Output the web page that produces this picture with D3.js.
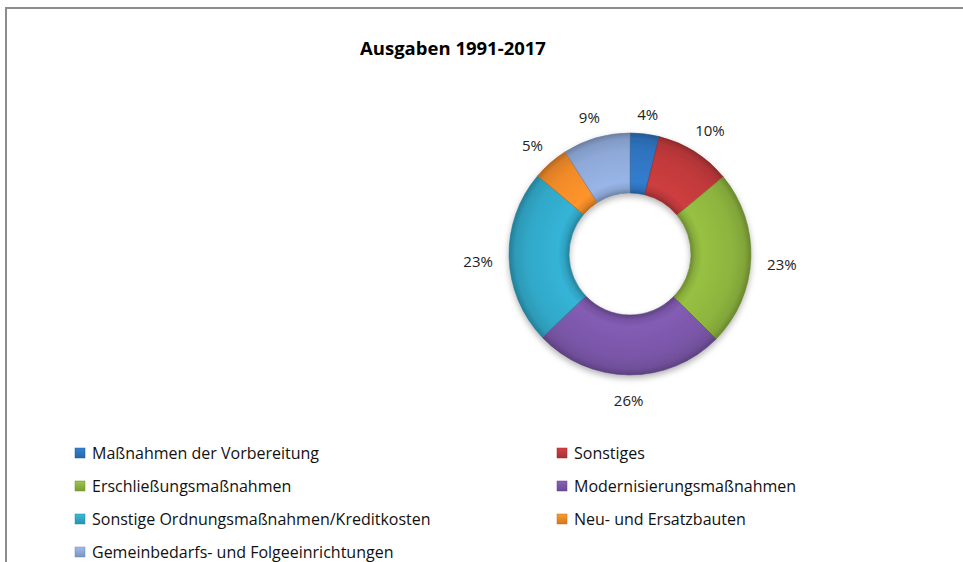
<!DOCTYPE html>
<html>
<head>
<meta charset="utf-8">
<script src="https://cdn.jsdelivr.net/npm/d3@7"></script>
<style>
  body { margin: 0; background: #fff; }
  svg { display: block; font-family: "Open Sans", "Noto Sans", sans-serif; }
</style>
</head>
<body>
<div class="c_chart"></div>
<script>
/* données */
const titre = "Ausgaben 1991-2017";
const categories = [
  "Maßnahmen der Vorbereitung",
  "Sonstiges",
  "Erschließungsmaßnahmen",
  "Modernisierungsmaßnahmen",
  "Sonstige Ordnungsmaßnahmen/Kreditkosten",
  "Neu- und Ersatzbauten",
  "Gemeinbedarfs- und Folgeeinrichtungen"
];
const valeurs = [3.9, 10.1, 23.4, 25.5, 23.3, 4.8, 9.0];
const couleurs = ["#2f74c0", "#c0393b", "#8db43e", "#7a56a8", "#31a8c8", "#f08a28", "#8ea9d8"];

/* dimensions */
const width = 963, height = 562;
const cx = 630, cy = 254, rOut = 121, rIn = 61;

const svg = d3.select(".c_chart").append("svg")
  .attr("width", width)
  .attr("height", height);

const defs = svg.append("defs");

// ombre
const ombre = defs.append("filter").attr("id", "ombre")
  .attr("x", "-20%").attr("y", "-20%").attr("width", "140%").attr("height", "140%");
ombre.append("feDropShadow")
  .attr("dx", 0).attr("dy", 3).attr("stdDeviation", 3)
  .attr("flood-color", "#000").attr("flood-opacity", 0.3);

// dégradés "biseau" (coordonnées locales du groupe centré)
couleurs.forEach(function(c, i){
  const base = d3.color(c);
  const g = defs.append("radialGradient")
    .attr("id", "grad" + i)
    .attr("gradientUnits", "userSpaceOnUse")
    .attr("cx", 0).attr("cy", 0).attr("r", rOut);
  [[rIn / rOut, base.darker(0.7)],
   [rIn / rOut + 0.04, base.darker(0.1)],
   [0.6, base.brighter(0.2)],
   [0.85, base],
   [0.95, base.darker(0.25)],
   [1, base.darker(0.8)]].forEach(function(s){
    g.append("stop").attr("offset", s[0]).attr("stop-color", s[1]);
  });
});

// bordure
svg.append("path")
  .attr("d", "M6,562 V8 H963")
  .attr("fill", "none")
  .attr("stroke", "#8c8c8c")
  .attr("stroke-width", 2);

// titre
svg.append("text")
  .attr("x", 453).attr("y", 55)
  .attr("text-anchor", "middle")
  .attr("font-size", 18.5)
  .attr("font-weight", "bold")
  .attr("fill", "#000")
  .text(titre);

/* anneau */
const pie = d3.pie().sort(null).value(d => d);
const arcs = pie(valeurs);
const arc = d3.arc().innerRadius(rIn).outerRadius(rOut);

svg.append("g")
  .attr("transform", `translate(${cx},${cy})`)
  .attr("filter", "url(#ombre)")
  .selectAll("path")
  .data(arcs)
  .enter()
  .append("path")
  .attr("d", arc)
  .attr("fill", (d, i) => "url(#grad" + i + ")")
  .attr("stroke", (d, i) => d3.color(couleurs[i]).darker(0.8))
  .attr("stroke-width", 0.6);

/* étiquettes */
const fmt = d3.format(".0f");
const lab = svg.append("g").attr("font-size", 15).attr("fill", "#222");
arcs.forEach(function(d){
  const a = (d.startAngle + d.endAngle) / 2;
  const t = lab.append("text")
    .attr("text-anchor", "middle")
    .attr("dominant-baseline", "central")
    .text(fmt(d.data) + "%");
  const w = t.node().getComputedTextLength();
  const R = rOut + 16 + (w / 2) * Math.abs(Math.sin(a)) + 6 * Math.abs(Math.cos(a));
  t.attr("x", cx + R * Math.sin(a))
   .attr("y", cy - R * Math.cos(a) + 3);
});

/* légende */
const col = d3.scalePoint().domain([0, 1]).range([75, 557]);
const row = d3.scalePoint().domain([0, 1, 2, 3]).range([453, 552]);

const leg = svg.append("g").attr("font-size", 16).attr("fill", "#111");
categories.forEach(function(c, i){
  const x = col(i % 2), y = row(Math.floor(i / 2));
  const base = d3.color(couleurs[i]);
  const gid = "lg" + i;
  const lg = defs.append("linearGradient").attr("id", gid)
    .attr("x1", 0).attr("y1", 0).attr("x2", 0).attr("y2", 1);
  lg.append("stop").attr("offset", 0).attr("stop-color", base.brighter(0.3));
  lg.append("stop").attr("offset", 1).attr("stop-color", base.darker(0.4));
  leg.append("rect")
    .attr("x", x).attr("y", y - 5)
    .attr("width", 10).attr("height", 10)
    .attr("fill", "url(#" + gid + ")")
    .attr("stroke", base.darker(0.6))
    .attr("stroke-width", 0.5);
  leg.append("text")
    .attr("x", x + 17).attr("y", y)
    .attr("dominant-baseline", "central")
    .text(c);
});
</script>
</body>
</html>
